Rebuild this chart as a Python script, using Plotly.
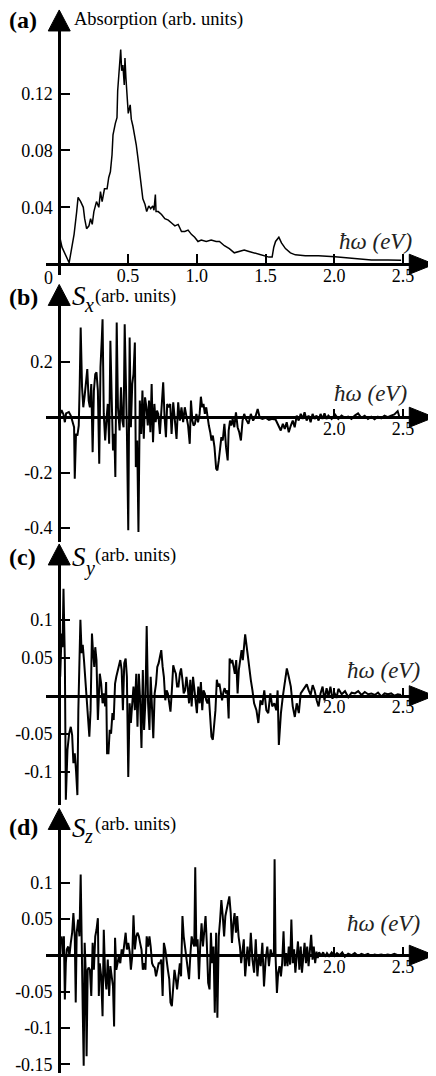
import plotly.graph_objects as go

W, H = 436, 1076
SERIF = "Liberation Serif"

# ── (a) absorption ───────────────────────────────────────────
E_ABS = [0.000, 0.020, 0.072, 0.096, 0.108, 0.127, 0.137, 0.156, 0.175, 0.185,
         0.199, 0.216, 0.228, 0.240, 0.252, 0.271, 0.288, 0.300, 0.312, 0.329,
         0.348, 0.360, 0.372, 0.384, 0.391, 0.408, 0.420, 0.425, 0.432, 0.440,
         0.447, 0.454, 0.463, 0.473, 0.478, 0.485, 0.492, 0.502, 0.516, 0.524,
         0.536, 0.548, 0.560, 0.572, 0.584, 0.596, 0.608, 0.624, 0.636, 0.651,
         0.665, 0.680, 0.689, 0.699, 0.704, 0.720, 0.744, 0.768, 0.793, 0.817,
         0.841, 0.865, 0.889, 0.913, 0.937, 0.961, 0.985, 1.009, 1.033, 1.069,
         1.105, 1.141, 1.165, 1.201, 1.237, 1.273, 1.309, 1.345, 1.380, 1.420,
         1.452, 1.488, 1.525, 1.548, 1.560, 1.573, 1.597, 1.616, 1.645, 1.681,
         1.717, 1.789, 1.885, 2.005, 2.149, 2.270, 2.390, 2.486]
ABS = [0.021, 0.012, 0.001, 0.013, 0.021, 0.037, 0.047, 0.044, 0.040, 0.032,
       0.025, 0.027, 0.032, 0.028, 0.037, 0.044, 0.040, 0.051, 0.044, 0.053,
       0.053, 0.061, 0.065, 0.077, 0.091, 0.099, 0.103, 0.122, 0.133, 0.145,
       0.151, 0.136, 0.140, 0.126, 0.145, 0.131, 0.117, 0.106, 0.112, 0.102,
       0.097, 0.091, 0.084, 0.075, 0.066, 0.056, 0.046, 0.042, 0.037, 0.041,
       0.039, 0.041, 0.038, 0.049, 0.037, 0.037, 0.035, 0.032, 0.031, 0.029,
       0.027, 0.028, 0.023, 0.023, 0.024, 0.021, 0.019, 0.016, 0.017, 0.016,
       0.017, 0.016, 0.016, 0.013, 0.011, 0.008, 0.009, 0.010, 0.009, 0.008,
       0.007, 0.006, 0.005, 0.005, 0.012, 0.016, 0.019, 0.015, 0.011, 0.008,
       0.0066, 0.0059, 0.0060, 0.0052, 0.0042, 0.0030, 0.0030, 0.0028]

# ── (b) Sx ───────────────────────────────────────────────────
E_SX = [0.000, 0.017, 0.031, 0.041, 0.050, 0.070, 0.084, 0.098, 0.108, 0.113,
        0.122, 0.132, 0.142, 0.149, 0.156, 0.166, 0.175, 0.185, 0.195, 0.204,
        0.214, 0.223, 0.233, 0.243, 0.252, 0.262, 0.271, 0.281, 0.291, 0.300,
        0.310, 0.315, 0.324, 0.334, 0.343, 0.353, 0.363, 0.372, 0.382, 0.391,
        0.401, 0.408, 0.418, 0.427, 0.439, 0.449, 0.459, 0.468, 0.476, 0.485,
        0.492, 0.502, 0.512, 0.521, 0.531, 0.540, 0.550, 0.557, 0.567, 0.576,
        0.586, 0.596, 0.605, 0.615, 0.624, 0.634, 0.644, 0.653, 0.663, 0.672,
        0.682, 0.692, 0.701, 0.711, 0.720, 0.732, 0.744, 0.756, 0.766, 0.776,
        0.785, 0.797, 0.807, 0.817, 0.829, 0.841, 0.853, 0.865, 0.877, 0.889,
        0.901, 0.913, 0.925, 0.937, 0.949, 0.958, 0.968, 0.977, 0.987, 0.997,
        1.009, 1.021, 1.030, 1.040, 1.049, 1.059, 1.069, 1.078, 1.088, 1.098,
        1.107, 1.117, 1.129, 1.141, 1.150, 1.160, 1.170, 1.179, 1.189, 1.201,
        1.213, 1.225, 1.232, 1.242, 1.251, 1.261, 1.273, 1.285, 1.297, 1.309,
        1.321, 1.333, 1.345, 1.357, 1.376, 1.393, 1.410, 1.429, 1.443, 1.458,
        1.477, 1.501, 1.525, 1.549, 1.573, 1.597, 1.611, 1.626, 1.640, 1.654,
        1.669, 1.684, 1.698, 1.712, 1.727, 1.741, 1.756, 1.770, 1.784, 1.799,
        1.813, 1.828, 1.842, 1.857, 1.871, 1.886, 1.900, 1.914, 1.929, 1.943,
        1.957, 1.981, 2.005, 2.029, 2.053, 2.077, 2.101, 2.125, 2.149, 2.173,
        2.197, 2.221, 2.245, 2.269, 2.293, 2.317, 2.341, 2.365, 2.389, 2.413,
        2.437, 2.461, 2.473, 2.485]
SX = [0.000, 0.026, 0.010, -0.018, 0.014, 0.019, 0.006, -0.018, -0.036, -0.222,
      -0.060, -0.066, -0.030, 0.120, 0.324, 0.108, 0.036, 0.078, 0.144, 0.174,
      0.060, 0.036, 0.120, -0.126, 0.096, 0.156, 0.162, 0.096, -0.168, 0.180,
      0.288, 0.354, 0.012, -0.084, -0.012, 0.048, -0.096, 0.276, 0.060, -0.120,
      -0.060, -0.216, 0.342, 0.036, -0.048, 0.108, -0.012, -0.036, 0.336, 0.156,
      -0.048, -0.408, 0.288, -0.036, 0.120, 0.156, 0.270, -0.180, -0.084, -0.414,
      0.060, -0.060, 0.096, -0.078, 0.072, 0.036, -0.030, 0.060, -0.054, 0.120,
      -0.090, 0.048, -0.018, 0.024, 0.012, -0.060, 0.054, 0.126, 0.000, -0.072,
      0.048, 0.036, 0.048, -0.060, 0.054, 0.000, -0.078, 0.054, -0.012, 0.036,
      -0.018, 0.036, 0.000, -0.030, -0.096, 0.060, -0.012, -0.030, -0.024, 0.012,
      -0.018, 0.012, 0.074, 0.036, 0.048, 0.012, 0.036, 0.000, -0.030, -0.054,
      -0.084, -0.066, -0.108, -0.186, -0.192, -0.156, -0.108, -0.072, -0.084, -0.024,
      -0.108, -0.156, -0.048, -0.012, -0.030, -0.006, -0.036, 0.018, -0.036, -0.054,
      -0.084, -0.012, 0.012, -0.006, -0.024, 0.012, -0.012, 0.006, 0.030, -0.002,
      -0.006, -0.002, -0.010, -0.006, -0.008, -0.036, -0.048, -0.024, -0.042, -0.018,
      -0.054, -0.030, -0.012, -0.036, 0.006, -0.012, 0.012, -0.006, 0.018, -0.012,
      0.006, -0.018, 0.012, -0.006, 0.006, -0.012, 0.012, -0.006, 0.014, -0.006,
      0.006, -0.006, 0.010, -0.006, 0.006, -0.002, 0.002, -0.006, 0.006, 0.014,
      -0.002, 0.005, -0.006, 0.002, -0.007, 0.002, -0.004, 0.006, 0.000, 0.006,
      0.010, 0.022, 0.002, 0.000]

# ── (c) Sy ───────────────────────────────────────────────────
E_SY = [0.007, 0.017, 0.024, 0.031, 0.041, 0.048, 0.060, 0.072, 0.084, 0.094,
        0.103, 0.113, 0.122, 0.132, 0.139, 0.146, 0.154, 0.163, 0.171, 0.180,
        0.190, 0.199, 0.209, 0.219, 0.228, 0.238, 0.245, 0.255, 0.262, 0.271,
        0.281, 0.288, 0.295, 0.305, 0.315, 0.324, 0.334, 0.341, 0.348, 0.358,
        0.367, 0.377, 0.387, 0.396, 0.406, 0.415, 0.425, 0.435, 0.444, 0.454,
        0.463, 0.473, 0.483, 0.492, 0.502, 0.512, 0.521, 0.531, 0.540, 0.550,
        0.560, 0.569, 0.579, 0.588, 0.598, 0.608, 0.617, 0.627, 0.636, 0.646,
        0.656, 0.665, 0.675, 0.684, 0.694, 0.704, 0.713, 0.723, 0.732, 0.742,
        0.752, 0.761, 0.771, 0.781, 0.790, 0.800, 0.809, 0.819, 0.829, 0.838,
        0.848, 0.857, 0.867, 0.877, 0.886, 0.896, 0.905, 0.915, 0.925, 0.934,
        0.944, 0.953, 0.963, 0.973, 0.982, 0.992, 1.001, 1.011, 1.021, 1.030,
        1.040, 1.049, 1.059, 1.069, 1.078, 1.088, 1.098, 1.107, 1.117, 1.126,
        1.136, 1.146, 1.155, 1.165, 1.174, 1.184, 1.194, 1.203, 1.213, 1.222,
        1.232, 1.239, 1.249, 1.258, 1.268, 1.277, 1.287, 1.297, 1.306, 1.316,
        1.326, 1.335, 1.345, 1.352, 1.369, 1.381, 1.393, 1.405, 1.417, 1.434,
        1.448, 1.463, 1.477, 1.491, 1.506, 1.520, 1.535, 1.549, 1.564, 1.578,
        1.588, 1.597, 1.612, 1.626, 1.640, 1.655, 1.669, 1.684, 1.698, 1.713,
        1.727, 1.742, 1.756, 1.771, 1.785, 1.800, 1.814, 1.828, 1.843, 1.857,
        1.872, 1.886, 1.900, 1.915, 1.929, 1.944, 1.958, 1.972, 1.987, 2.001,
        2.016, 2.030, 2.054, 2.078, 2.102, 2.126, 2.150, 2.174, 2.198, 2.222,
        2.246, 2.270, 2.294, 2.318, 2.342, 2.366, 2.390, 2.414, 2.438, 2.462,
        2.486]
SY = [0.025, 0.082, 0.064, 0.141, 0.047, -0.137, -0.071, -0.050, -0.041, -0.052,
      -0.089, -0.076, -0.098, -0.131, -0.019, 0.056, 0.100, 0.056, 0.067, 0.047,
      0.021, -0.006, -0.023, -0.054, -0.019, 0.082, 0.060, 0.038, 0.064, 0.047,
      -0.032, 0.012, 0.029, 0.016, -0.010, 0.003, -0.014, 0.018, -0.076, -0.076,
      -0.045, -0.050, -0.023, -0.032, 0.016, 0.025, 0.034, 0.043, 0.047, 0.034,
      -0.019, 0.043, 0.049, 0.025, -0.107, -0.010, -0.036, -0.010, 0.012, -0.019,
      0.029, -0.041, 0.029, -0.006, -0.069, 0.034, -0.045, -0.006, 0.092, -0.010,
      -0.045, 0.025, -0.010, -0.056, 0.003, 0.016, 0.038, 0.043, 0.051, 0.060,
      0.038, 0.025, -0.006, 0.007, 0.003, -0.010, -0.021, 0.007, 0.040, 0.034,
      0.029, 0.012, 0.012, 0.029, 0.036, 0.021, 0.003, 0.007, 0.025, 0.012,
      -0.010, 0.021, -0.014, 0.025, 0.012, -0.006, -0.023, 0.012, -0.010, 0.018,
      -0.019, 0.007, 0.003, -0.006, -0.010, -0.001, -0.028, -0.054, -0.058, -0.036,
      -0.019, 0.021, 0.012, 0.016, 0.007, -0.006, 0.005, 0.010, 0.003, 0.007,
      -0.030, 0.049, 0.043, 0.047, 0.038, 0.029, 0.047, 0.003, 0.034, 0.051,
      0.060, 0.047, 0.069, 0.081, 0.056, 0.034, 0.021, 0.007, -0.010, -0.019,
      -0.036, -0.006, -0.012, 0.007, -0.019, -0.023, 0.003, -0.014, -0.010, -0.019,
      0.007, -0.065, -0.023, -0.001, 0.021, 0.036, 0.025, 0.012, -0.014, -0.028,
      -0.010, -0.023, 0.003, 0.007, 0.012, 0.015, 0.007, 0.001, 0.014, 0.007,
      -0.006, -0.014, 0.003, 0.012, -0.006, 0.010, -0.001, 0.012, -0.004, 0.004,
      -0.003, 0.009, 0.002, 0.006, -0.002, 0.004, 0.003, 0.006, 0.001, 0.005,
      0.002, 0.003, 0.001, 0.004, -0.001, 0.003, 0.002, 0.003, 0.000, 0.002,
      0.001]

# ── (d) Sz ───────────────────────────────────────────────────
E_SZ = [0.017, 0.026, 0.034, 0.041, 0.048, 0.055, 0.065, 0.074, 0.084, 0.094,
        0.103, 0.113, 0.120, 0.127, 0.137, 0.147, 0.156, 0.163, 0.171, 0.178,
        0.185, 0.192, 0.199, 0.207, 0.214, 0.223, 0.233, 0.243, 0.252, 0.262,
        0.271, 0.281, 0.288, 0.295, 0.305, 0.315, 0.324, 0.334, 0.343, 0.353,
        0.363, 0.372, 0.382, 0.391, 0.399, 0.406, 0.415, 0.425, 0.434, 0.444,
        0.454, 0.463, 0.473, 0.483, 0.492, 0.502, 0.512, 0.521, 0.531, 0.540,
        0.550, 0.560, 0.569, 0.579, 0.588, 0.598, 0.608, 0.617, 0.627, 0.636,
        0.646, 0.656, 0.665, 0.675, 0.684, 0.694, 0.704, 0.713, 0.723, 0.732,
        0.742, 0.752, 0.761, 0.771, 0.781, 0.790, 0.800, 0.809, 0.819, 0.829,
        0.838, 0.848, 0.857, 0.867, 0.877, 0.886, 0.896, 0.905, 0.915, 0.925,
        0.934, 0.944, 0.953, 0.963, 0.973, 0.982, 0.989, 0.997, 1.006, 1.016,
        1.025, 1.035, 1.045, 1.054, 1.064, 1.073, 1.083, 1.093, 1.103, 1.112,
        1.122, 1.131, 1.141, 1.150, 1.160, 1.170, 1.179, 1.189, 1.199, 1.208,
        1.218, 1.228, 1.237, 1.247, 1.256, 1.266, 1.275, 1.285, 1.294, 1.304,
        1.314, 1.323, 1.333, 1.342, 1.352, 1.369, 1.381, 1.393, 1.405, 1.417,
        1.429, 1.441, 1.453, 1.465, 1.477, 1.489, 1.501, 1.513, 1.525, 1.537,
        1.549, 1.561, 1.566, 1.573, 1.583, 1.592, 1.602, 1.612, 1.621, 1.631,
        1.640, 1.650, 1.660, 1.669, 1.679, 1.688, 1.698, 1.708, 1.717, 1.727,
        1.736, 1.746, 1.756, 1.765, 1.775, 1.784, 1.794, 1.803, 1.813, 1.823,
        1.832, 1.842, 1.851, 1.861, 1.871, 1.880, 1.890, 1.904, 1.919, 1.933,
        1.947, 1.962, 1.981, 2.001, 2.020, 2.039, 2.058, 2.077, 2.101, 2.125,
        2.149, 2.173, 2.197, 2.221, 2.245, 2.269, 2.293, 2.317, 2.341, 2.365,
        2.389, 2.413, 2.437, 2.461]
SZ = [0.026, -0.001, 0.026, -0.061, -0.011, 0.008, 0.012, -0.001, 0.017, 0.031,
      0.058, 0.026, -0.065, 0.031, 0.049, 0.026, 0.111, -0.011, -0.075, -0.152,
      0.017, -0.020, -0.139, -0.020, -0.017, -0.020, -0.056, 0.017, -0.020, 0.026,
      0.035, 0.051, -0.056, -0.011, -0.029, -0.084, 0.035, -0.029, -0.047, -0.006,
      -0.056, -0.015, -0.033, -0.043, -0.098, 0.024, -0.020, -0.011, -0.001, -0.011,
      0.008, -0.001, 0.017, 0.031, 0.008, 0.017, 0.005, -0.020, -0.001, 0.055,
      0.008, 0.026, 0.031, 0.026, 0.017, 0.008, -0.020, -0.011, -0.020, 0.026,
      0.012, 0.026, 0.012, -0.011, -0.015, -0.017, -0.029, -0.020, -0.011, -0.011,
      -0.006, -0.056, 0.017, 0.008, -0.011, -0.020, -0.033, -0.065, -0.070, -0.043,
      -0.020, -0.033, -0.047, -0.029, -0.011, -0.029, 0.054, 0.026, 0.012, -0.001,
      -0.020, -0.033, -0.001, 0.026, 0.017, 0.012, 0.121, 0.012, 0.022, -0.033,
      0.012, 0.044, 0.012, 0.031, 0.054, 0.017, -0.038, -0.047, 0.031, -0.011,
      0.012, -0.079, 0.031, -0.086, 0.026, 0.049, 0.076, 0.054, 0.026, 0.054,
      0.063, 0.072, 0.081, 0.058, 0.017, 0.044, 0.058, 0.031, 0.054, 0.026,
      0.012, -0.011, 0.008, 0.022, -0.029, 0.012, -0.015, 0.031, -0.006, -0.024,
      0.022, -0.029, -0.001, -0.015, 0.017, -0.043, -0.006, 0.012, -0.015, 0.008,
      -0.001, 0.003, 0.132, -0.001, -0.052, -0.024, -0.015, -0.029, -0.011, 0.033,
      -0.015, 0.003, -0.015, 0.012, -0.013, 0.049, -0.011, 0.008, -0.024, -0.006,
      0.019, -0.020, 0.012, -0.024, 0.003, 0.017, -0.011, 0.012, -0.015, 0.008,
      0.028, -0.006, 0.012, -0.011, 0.005, -0.004, 0.004, -0.001, 0.004, -0.002,
      0.003, -0.001, 0.004, -0.001, 0.003, 0.000, 0.004, -0.002, 0.002, 0.000,
      0.003, -0.001, 0.002, 0.000, 0.002, -0.001, 0.001, 0.000, 0.001, 0.000,
      0.001, 0.000, 0.002, 0.000]

# panel geometry, in screen pixels of the reference image
X0_PX, PX_PER_EV = 51.7, 138.8       # eV = 0 sits on the vertical axis
AX_LEFT, AX_RIGHT = 38, 406          # horizontal axis line, arrow base at the right
PANELS = [
    # zero line px, px per unit, axis top px, axis bottom px
    dict(zero=256.7, ppu=1425.0, top=22, bottom=267,
         ticks=[0.04, 0.08, 0.12], ticktext=["0.04", "0.08", "0.12"],
         xticks=[0.5, 1.0, 1.5, 2.0, 2.5]),
    dict(zero=410.0, ppu=277.5, top=297, bottom=535,
         ticks=[-0.4, -0.2, 0.2], ticktext=["-0.4", "-0.2", "0.2"],
         xticks=[2.0, 2.5]),
    dict(zero=689.0, ppu=760.0, top=557, bottom=798,
         ticks=[-0.1, -0.05, 0.05, 0.1], ticktext=["-0.1", "-0.05", "0.05", "0.1"],
         xticks=[2.0, 2.5]),
    dict(zero=949.0, ppu=728.0, top=822, bottom=1067,
         ticks=[-0.15, -0.1, -0.05, 0.05, 0.1],
         ticktext=["-0.15", "-0.1", "-0.05", "0.05", "0.1"],
         xticks=[2.0, 2.5]),
]
SERIES = [(E_ABS, ABS, 1.5), (E_SX, SX, 2.0), (E_SY, SY, 2.0), (E_SZ, SZ, 2.0)]


def px(xp, yp):
    return xp / W, 1 - yp / H


fig = go.Figure()
layout = {}
shapes = []
tick_font = dict(family=SERIF, size=18, color="black")
x_range = [(AX_LEFT - X0_PX) / PX_PER_EV, (AX_RIGHT - X0_PX) / PX_PER_EV]

for i, (p, (ex, vy, lw)) in enumerate(zip(PANELS, SERIES), start=1):
    sfx = "" if i == 1 else str(i)
    fig.add_trace(go.Scatter(
        x=ex, y=vy, mode="lines",
        line=dict(color="black", width=lw),
        xaxis=f"x{sfx}", yaxis=f"y{sfx}", showlegend=False, hoverinfo="skip",
    ))

    y_range = [(p["zero"] - p["bottom"]) / p["ppu"], (p["zero"] - p["top"]) / p["ppu"]]
    layout[f"xaxis{sfx}"] = dict(
        domain=[AX_LEFT / W, AX_RIGHT / W], range=x_range,
        anchor="free", position=1 - p["zero"] / H,
        showline=True, linewidth=3, linecolor="black",
        showgrid=False, zeroline=False,
        ticks="inside", ticklen=9 if i == 1 else 7, tickwidth=2, tickcolor="black",
        tickvals=p["xticks"], ticktext=[f"{v:.1f}" for v in p["xticks"]],
        tickfont=tick_font, ticklabelstandoff=-6, fixedrange=True,
    )
    layout[f"yaxis{sfx}"] = dict(
        domain=[1 - p["bottom"] / H, 1 - p["top"] / H], range=y_range,
        anchor="free", position=X0_PX / W,
        showline=True, linewidth=3, linecolor="black",
        showgrid=False, zeroline=False,
        ticks="inside", ticklen=9, tickwidth=2, tickcolor="black",
        tickvals=p["ticks"], ticktext=p["ticktext"],
        tickfont=tick_font, ticklabelstandoff=2, fixedrange=True,
    )

    # arrow heads on both axes, sized in pixels, anchored in paper space
    shapes.append(dict(
        type="path", xref="paper", yref="paper",
        xsizemode="pixel", ysizemode="pixel",
        xanchor=AX_RIGHT / W, yanchor=1 - p["zero"] / H,
        path="M -1 -10 L -1 10 L 24 0 Z",
        fillcolor="black", line=dict(color="black", width=1),
    ))
    shapes.append(dict(
        type="path", xref="paper", yref="paper",
        xsizemode="pixel", ysizemode="pixel",
        xanchor=X0_PX / W, yanchor=1 - p["top"] / H,
        path="M -11 -1 L 11 -1 L 0 20 Z",
        fillcolor="black", line=dict(color="black", width=1),
    ))

annotations = []


def note(text, xp, yp, size, xanchor="left", yanchor="middle", bold=False,
         italic=False, color="black"):
    x, y = px(xp, yp)
    if italic:
        text = f"<i>{text}</i>"
    if bold:
        text = f"<b>{text}</b>"
    annotations.append(dict(
        text=text, x=x, y=y, xref="paper", yref="paper",
        xanchor=xanchor, yanchor=yanchor, showarrow=False, borderpad=0,
        font=dict(family=SERIF, size=size, color=color),
    ))


# panel letters
for letter, yp in zip("abcd", [12, 290, 550, 821]):
    note(f"({letter})", 0, yp, 24, bold=True)

note("Absorption (arb. units)", 66, 12, 18.5)
note("0", 41, 271, 18, xanchor="center")

for sub, yS, ysub, yarb in [("x", 289, 298, 289), ("y", 550, 562, 549), ("z", 822, 830, 818)]:
    note("S", 64, yS, 27, italic=True)
    note(sub, 76, ysub, 20, italic=True)
    note("(arb. units)", 87, yarb, 18.5)

for xl, yl in [(333, 234), (328, 386), (341, 664), (341, 917)]:
    note("ħω (eV)", xl, yl, 23, italic=True, color="#222")

fig.update_layout(
    width=W, height=H,
    margin=dict(l=0, r=0, t=0, b=0),
    plot_bgcolor="white", paper_bgcolor="white",
    shapes=shapes, annotations=annotations,
    **layout,
)

fig.write_html("out.html")
